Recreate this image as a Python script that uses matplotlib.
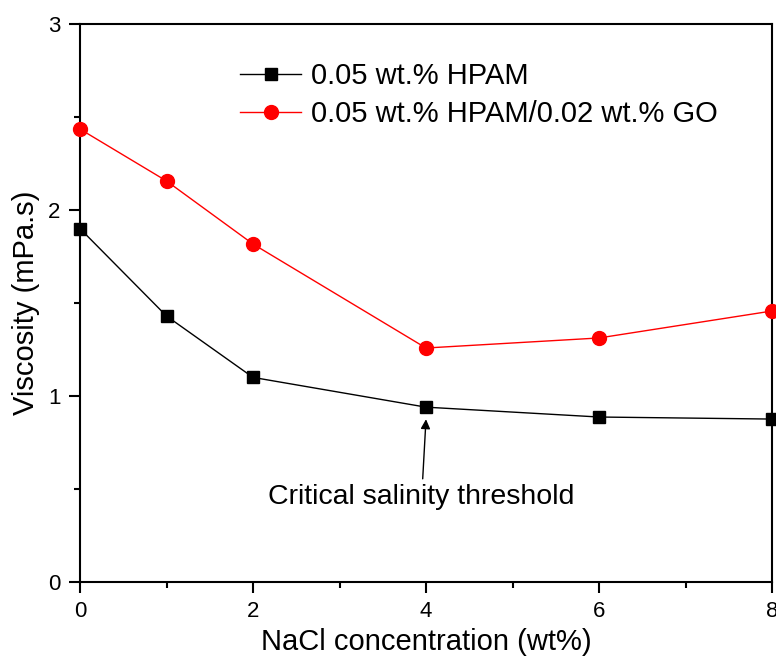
import matplotlib.pyplot as plt
from matplotlib.ticker import MultipleLocator

plt.rcParams['font.family'] = ['Liberation Sans', 'DejaVu Sans']

nacl = [0, 1, 2, 4, 6, 8]
hpam = [1.90, 1.43, 1.10, 0.94, 0.887, 0.876]
hpam_go = [2.435, 2.156, 1.817, 1.258, 1.312, 1.457]

fig = plt.figure(figsize=(7.76, 6.68), dpi=100)
ax = fig.add_axes([80 / 776, 86 / 668, 692 / 776, 558 / 668])

ax.plot(nacl, hpam, color='black', lw=1, marker='s', ms=9,
        label='0.05 wt.% HPAM', clip_on=False, zorder=3)
ax.plot(nacl, hpam_go, color='red', lw=1, marker='o', ms=10,
        label='0.05 wt.% HPAM/0.02 wt.% GO', clip_on=False, zorder=3)

ax.set_xlim(0, 8)
ax.set_ylim(0, 3)
ax.xaxis.set_major_locator(MultipleLocator(2))
ax.xaxis.set_minor_locator(MultipleLocator(1))
ax.yaxis.set_major_locator(MultipleLocator(1))
ax.yaxis.set_minor_locator(MultipleLocator(0.5))
ax.tick_params(which='major', direction='out', length=8, width=1.5, labelsize=16, pad=6)
ax.tick_params(which='minor', direction='out', length=4, width=1.5)
for s in ax.spines.values():
    s.set_linewidth(1.5)

ax.set_xlabel('NaCl concentration (wt%)', fontsize=21, labelpad=4)
ax.set_ylabel('Viscosity (mPa.s)', fontsize=21, labelpad=6)

ax.legend(loc='upper left', bbox_to_anchor=(0.21, 0.958), frameon=False,
          fontsize=21, handlelength=2.1, handletextpad=0.35, labelspacing=0.35,
          borderpad=0)

ax.annotate('Critical salinity threshold', xy=(4, 0.875), xytext=(3.95, 0.455),
            ha='center', va='center', fontsize=20.5,
            arrowprops=dict(arrowstyle='-|>', color='black', lw=1,
                            shrinkA=2, shrinkB=0, mutation_scale=14))

fig.savefig('out.png', dpi=100)
